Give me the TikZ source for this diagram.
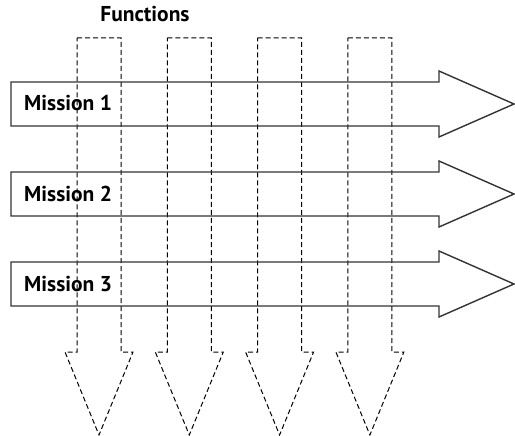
\documentclass[tikz,border=0pt]{standalone}
\usepackage{fontspec}
\setsansfont{PT Sans}
\usetikzlibrary{positioning}

\tikzset{
    missionarrow/.style={draw=black!80, line width=1.4pt, line join=miter},
    funcarrow/.style={draw=black, dash pattern=on 5pt off 3pt, line width=1pt},
    boldtext/.style={font=\sffamily\bfseries\fontsize{21.5}{24}\selectfont, inner sep=0pt}
}

\begin{document}
\begin{tikzpicture}[x=1pt, y=-1pt]
        \useasboundingbox (0,0) rectangle (515,436);

        % Functions (dashed, pointing down)
        \foreach \i in {0,...,3} {
            \pgfmathsetmacro{\xl}{77+90.3*\i}
            \draw[funcarrow] (\xl,38) -- (\xl+44,38) -- (\xl+44,352) -- (\xl+56,352)
                -- (\xl+22,435) -- (\xl-12,352) -- (\xl,352) -- cycle;
        }
        \node[boldtext, anchor=base] (functions) at (145,22) {Functions};

        % Missions (solid, pointing right)
        \foreach \i [count=\m] in {0,1,2} {
            \pgfmathsetmacro{\yt}{82+90*\i}
            \draw[missionarrow] (11,\yt) -- (439,\yt) -- (439,\yt-11) -- (514,\yt+22)
                -- (439,\yt+55) -- (439,\yt+44) -- (11,\yt+44) -- cycle;
            \node[boldtext, anchor=base west] (mission\m) at (24,\yt+29) {Mission \m};
        }

\end{tikzpicture}
\end{document}
